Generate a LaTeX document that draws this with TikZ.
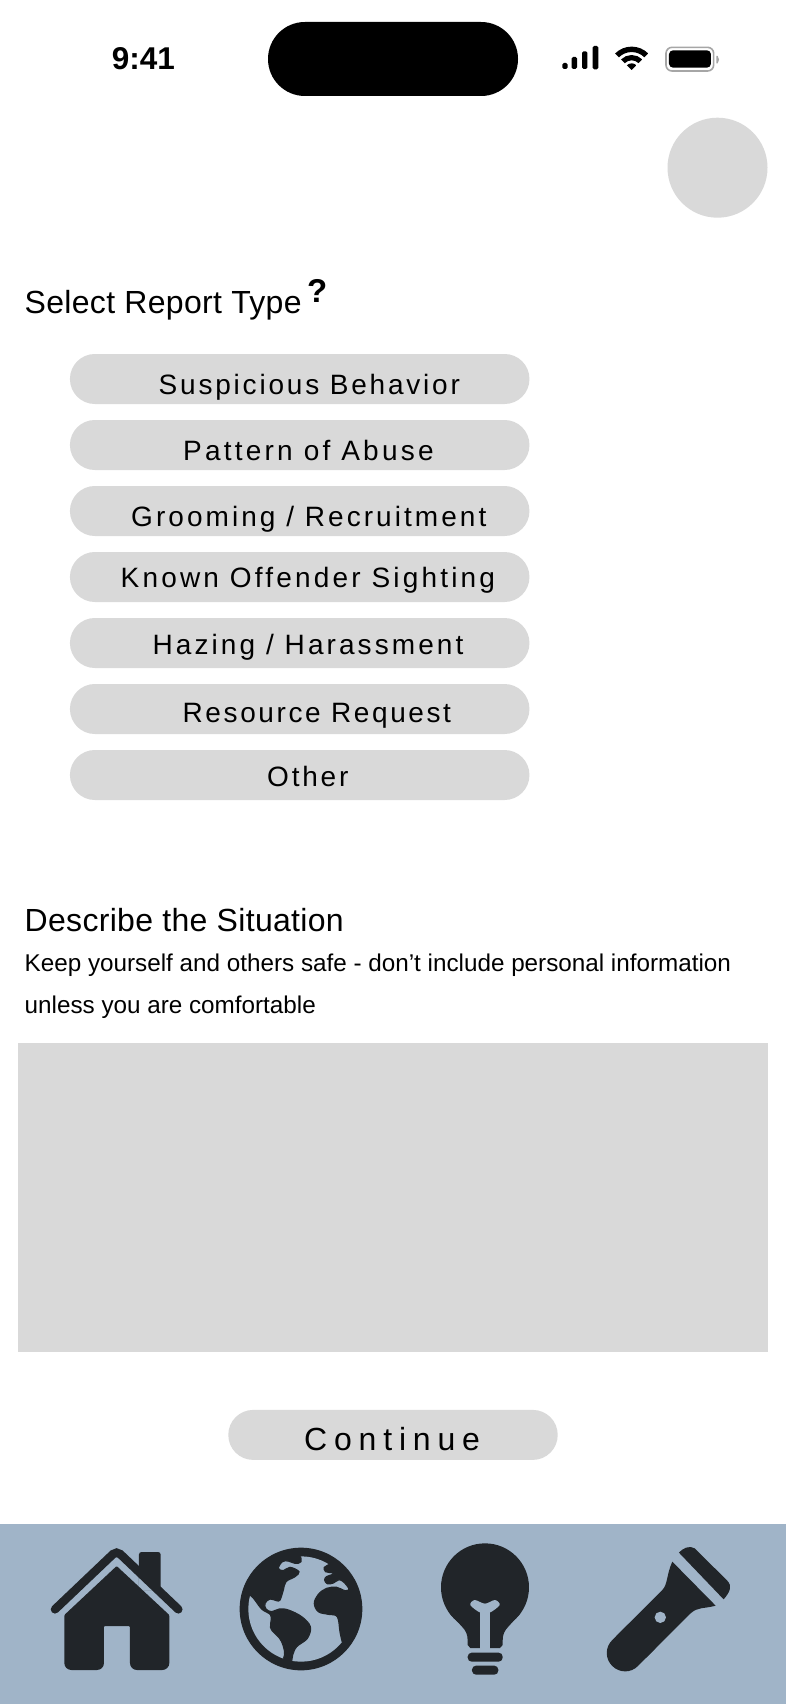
\documentclass[tikz,border=0pt]{standalone}
\usepackage{fontspec}
\setmainfont{Liberation Sans}
\newfontfamily\btnfont{Liberation Sans}
\definecolor{pillgray}{HTML}{D9D9D9}
\definecolor{navbar}{HTML}{A0B4C8}
\definecolor{icondark}{HTML}{212529}
\tikzset{
pillbox/.style={fill=pillgray,inner sep=0pt,minimum width=459.5pt,minimum height=50pt,rounded corners=24.9pt},
btnlabel/.style={anchor=base west,inner sep=0pt,font=\btnfont\addfontfeature{LetterSpace=#1}\fontsize{28}{32}\selectfont},
btnlabel/.default=10,
headlabel/.style={anchor=base west,inner sep=0pt,font=\addfontfeature{LetterSpace=1}\fontsize{32}{38}\selectfont},
bodylabel/.style={anchor=base west,inner sep=0pt,font=\fontsize{24.25}{30}\selectfont},
zoomed/.style={x=.3333pt,y=-.3333pt},
}
\begin{document}
\begin{tikzpicture}[x=1pt,y=-1pt]
\useasboundingbox (0,0) rectangle (786,1704); \fill[white] (0,0) rectangle (786,1704);
% status bar
\node[anchor=base,inner sep=0pt,font=\bfseries\fontsize{31.5}{38}\selectfont] (clock) at (143.5,69.5) {9:41};
\node[fill=black,inner sep=0pt,minimum width=250pt,minimum height=74pt,rounded corners=36.9pt] (island) at (393,59) {};
\begin{scope}[shift={(555,35)},zoomed]
\fill[black,rounded corners=1.5pt] (22,84) rectangle (38,102); \fill[black,rounded corners=1.5pt] (50,66) rectangle (66,102); \fill[black,rounded corners=1.5pt] (81,49) rectangle (97,102); \fill[black,rounded corners=1.5pt] (113,33) rectangle (130,103);
\begin{scope}
\clip (230,105) -- (160,35) -- (160,0) -- (300,0) -- (300,35) -- cycle;
\draw[black,line width=5.4pt] (230,105) circle (62); \draw[black,line width=5.2pt] (230,105) circle (37); \fill[black] (230,105) circle (20);
\end{scope}
\draw[gray!70,line width=1.6pt,rounded corners=6pt] (333,37) rectangle (476,108); \fill[black,rounded corners=4pt] (342,46) rectangle (468,98); \fill[gray!70] (484,63) -- (488,63) to[bend left=40] (488,85) -- (484,85) -- cycle;
\end{scope}
\node[circle,fill=pillgray,inner sep=0pt,minimum size=100pt] (avatar) at (717.5,167.7) {};
% report types
\node[headlabel] (selecttitle) at (24.5,313) {Select Report Type};
\node[anchor=base west,inner sep=0pt,font=\bfseries\fontsize{33}{40}\selectfont] (helpmark) at (307,302.5) {?};
\node[pillbox] (suspicious) at (299.7,379) {}; \node[btnlabel] (suspiciouslbl) at (158.5,394) {Suspicious Behavior};
\node[pillbox] (pattern) at (299.7,445) {}; \node[btnlabel=11.5] (patternlbl) at (183,460) {Pattern of Abuse};
\node[pillbox] (grooming) at (299.7,511) {}; \node[btnlabel=10.9] (groomlbl) at (131,526) {Grooming / Recruitment};
\node[pillbox] (offender) at (299.7,577) {}; \node[btnlabel=11.35] (offenderlbl) at (120.5,587.5) {Known Offender Sighting};
\node[pillbox] (hazing) at (299.7,643) {}; \node[btnlabel=11] (hazinglbl) at (152.5,654) {Hazing / Harassment};
\node[pillbox] (resource) at (299.7,709) {}; \node[btnlabel=9.3] (resourcelbl) at (182.5,722) {Resource Request};
\node[pillbox] (other) at (299.7,775) {}; \node[btnlabel] (otherlbl) at (267,786) {Other};
% description
\node[headlabel] (desctitle) at (24.5,931.7) {Describe the Situation};
\node[bodylabel] (descline) at (24.5,971.7) {Keep yourself and others safe - don’t include personal information};
\node[bodylabel] (descnext) at (24.5,1013.3) {unless you are comfortable};
\node[fill=pillgray,inner sep=0pt,minimum width=749.5pt,minimum height=309.7pt,anchor=north west] (descbox) at (18,1042.3) {};
\node[pillbox,minimum width=329.4pt] (continue) at (393,1434.9) {};
\node[anchor=base west,inner sep=0pt,font=\btnfont\addfontfeature{LetterSpace=21.3}\fontsize{32}{38}\selectfont] (continuelbl) at (304,1450) {Continue};
% bottom bar
\fill[navbar] (0,1524) rectangle (786,1704);
\begin{scope}[shift={(0,1510)},zoomed,icondark]
\fill[rounded corners=2.5pt] (417,240) -- (417,126) -- (482,126) -- (482,240) -- cycle;
\fill[navbar] (417,175) -- (482,240) -- (417,240) -- cycle;
\draw[line width=8.5pt,line cap=round,rounded corners=5pt] (165,298) -- (350,122) -- (535,298);
\fill[rounded corners=1pt] (350,168) -- (508,315) [rounded corners=7pt] -- (508,480) -- (390,480) [rounded corners=1pt] -- (390,348) -- (312,348) [rounded corners=7pt] -- (312,480) -- (193,480) [rounded corners=1pt] -- (193,315) -- cycle;
\end{scope}
\begin{scope}[shift={(230,1535)},zoomed]
\fill[icondark] (213,222) circle (184);
\begin{scope}
\clip (213,222) circle (158);
\filldraw[fill=navbar,draw=icondark,line width=1.2pt] plot[smooth cycle,tension=.6] coordinates {(60,180) (95,222) (122,240) (122,270) (125,285) (155,320) (160,372) (100,410) (10,300) (20,180)};
\filldraw[fill=navbar,draw=icondark,line width=1.2pt] plot[smooth cycle,tension=.6] coordinates {(218,50) (300,70) (297,88) (283,97) (287,110) (305,113) (311,117) (290,125) (284,135) (292,146) (310,144) (327,134) (342,142) (357,162) (345,167) (320,157) (290,160) (265,178) (253,205) (265,230) (295,238) (322,245) (330,290) (336,318) (345,350) (280,420) (190,400) (185,378) (188,360) (200,335) (232,310) (241,275) (215,245) (175,225) (148,222) (125,230) (108,222) (105,205) (120,192) (140,197) (150,195) (160,165) (168,140) (195,125) (207,110) (180,97) (160,107) (145,100) (157,80) (175,78) (195,85) (213,80)};
\end{scope}
\end{scope}
\begin{scope}[shift={(393,1510)},zoomed,icondark]
\fill (276,232) circle (132);
\fill (170,310) -- (207,350) .. controls (218,362) and (224,372) .. (224,392) -- (224,405) -- (232,414) -- (321,414) -- (329,405) -- (329,392) .. controls (329,372) and (335,362) .. (346,350) -- (382,310) -- cycle;
\fill[navbar] (262,420) -- (262,300) -- (290,300) -- (290,420) -- cycle;
\fill[navbar] plot[smooth cycle,tension=.5] coordinates {(232,285) (245,270) (276,281) (306,270) (320,285) (290,308) (262,308)};
\fill[rounded corners=4pt] (224,428) rectangle (329,455); \fill[rounded corners=4pt] (237,467) rectangle (316,494);
\end{scope}
\begin{scope}[shift={(393,1510)},zoomed,icondark]
\fill (858,128) .. controls (868,115) and (890,105) .. (905,115) -- (1003,212) .. controls (1018,228) and (1012,245) .. (992,268) -- cycle;
\fill (838,155) -- (968,287) .. controls (932,297) and (915,290) .. (893,310) -- (760,443) -- (670,378) -- (808,240) .. controls (825,222) and (820,195) .. (838,155) -- cycle;
\fill[rounded corners=18pt] (696.5,506.5) -- (619,429) -- (740,308) -- (820,383) -- cycle;
\fill[navbar] (802,322) circle (17);
\end{scope}
\end{tikzpicture}
\end{document}
